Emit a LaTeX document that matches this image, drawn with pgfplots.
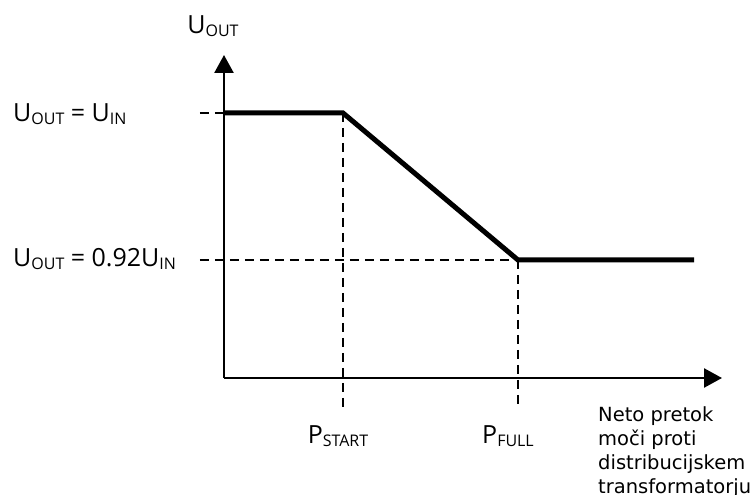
\documentclass[border=0pt]{standalone}
\usepackage{pgfplots}
\pgfplotsset{compat=1.18}
\usetikzlibrary{arrows.meta}
\usepackage{fontspec}
\setmainfont{Open Sans}
\newfontfamily\dv{DejaVu Sans}
\newcommand\lbl{\fontsize{25}{30}\selectfont}
\newcommand\sub[1]{\raisebox{-3pt}{\fontsize{16}{16}\selectfont #1}}
\begin{document}
\begin{tikzpicture}
\begin{axis}[
  at={(0,0)}, anchor=origin,
  x=1pt, y=1pt,
  xmin=0, xmax=498, ymin=0, ymax=323,
  axis lines=left, ticks=none, enlargelimits=false, clip=false,
  axis line style={line width=2.5pt, -{Triangle[length=18pt,width=19pt]}},
]
\addplot[line width=2.5pt, dash pattern=on 9pt off 6pt] coordinates {(-24,265) (0,265)};
\addplot[line width=2.5pt, dash pattern=on 9pt off 6pt] coordinates {(-24,118) (294,118)};
\addplot[line width=2.5pt, dash pattern=on 9pt off 6pt] coordinates {(119,265) (119,-30)};
\addplot[line width=2.5pt, dash pattern=on 9pt off 6pt] coordinates {(294,118) (294,-30)};
\addplot[line width=5pt] coordinates {(0,265) (119,265) (294,118) (470,118)};
\node[anchor=base, inner sep=0pt] at (axis cs:-11,344) {\lbl U\sub{OUT}};
\node[anchor=base west, inner sep=0pt] at (axis cs:-211,256) {\lbl U\sub{OUT} = U\sub{IN}};
\node[anchor=base west, inner sep=0pt] at (axis cs:-211,111) {\lbl U\sub{OUT} = 0.92U\sub{IN}};
\node[anchor=base, inner sep=0pt] at (axis cs:114,-65) {\lbl P\sub{START}};
\node[anchor=base, inner sep=0pt] at (axis cs:284,-65) {\lbl P\sub{FULL}};
\node[anchor=base west, inner sep=0pt] at (axis cs:374,-43) {\dv\fontsize{19.5}{24}\selectfont Neto pretok};
\node[anchor=base west, inner sep=0pt] at (axis cs:374,-67) {\dv\fontsize{19.5}{24}\selectfont moči proti};
\node[anchor=base west, inner sep=0pt] at (axis cs:374,-91) {\dv\fontsize{19.5}{24}\selectfont distribucijskem};
\node[anchor=base west, inner sep=0pt] at (axis cs:374,-115) {\dv\fontsize{19.5}{24}\selectfont transformatorju};
\end{axis}
\pgfresetboundingbox
\path (-224pt,-117pt) rectangle (531pt,378pt);
\end{tikzpicture}
\end{document}
